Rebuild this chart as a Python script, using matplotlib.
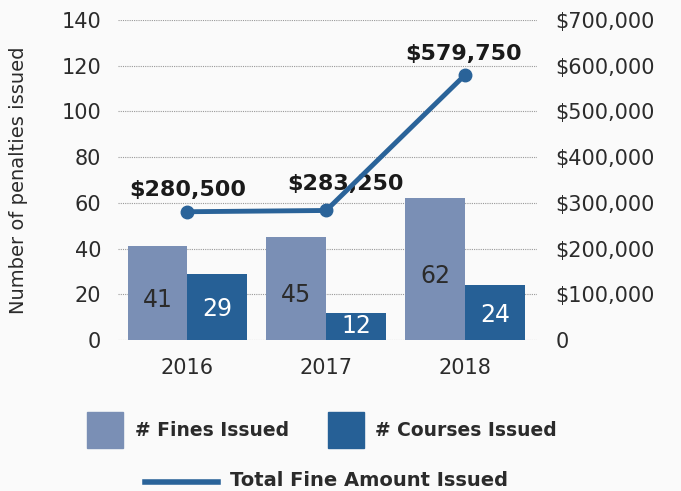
import matplotlib.pyplot as plt
from matplotlib.patches import Rectangle
from matplotlib.lines import Line2D
import numpy as np

years = ["2016", "2017", "2018"]
fines = [41, 45, 62]
courses = [29, 12, 24]
total_amount = [280500, 283250, 579750]
amount_labels = ["$280,500", "$283,250", "$579,750"]

fine_color = "#7a8fb5"
course_color = "#266096"
line_color = "#2a6399"
text_color = "#2b2b2b"

plt.rcParams["font.family"] = ["DejaVu Sans"]

fig = plt.figure(figsize=(6.81, 4.91), dpi=100, facecolor="#fafafa")
ax = fig.add_axes([0.173, 0.3075, 0.616, 0.652])
ax.set_facecolor("none")

x = np.arange(len(years))
w = 0.43
b1 = ax.bar(x - w / 2, fines, w, color=fine_color, zorder=2)
b2 = ax.bar(x + w / 2, courses, w, color=course_color, zorder=2)

for rect, v in zip(b1, fines):
    ax.text(rect.get_x() + w / 2, v / 2 - 3, str(v), ha="center", va="center",
            fontsize=17, color=text_color, zorder=3)
for rect, v in zip(b2, courses):
    ax.text(rect.get_x() + w / 2, v / 2 - 1 if v > 15 else v / 2, str(v),
            ha="center", va="center", fontsize=17, color="white", zorder=3)

ax.set_xlim(-0.5, 2.52)
ax.set_ylim(0, 140)
ax.set_yticks(range(0, 141, 20))
ax.set_xticks(x)
ax.set_xticklabels(years)
ax.tick_params(axis="both", length=0, labelsize=15, labelcolor=text_color)
ax.tick_params(axis="x", pad=13)
ax.tick_params(axis="y", pad=12)
ax.grid(axis="y", color="#999999", linestyle=(0, (1, 1)), linewidth=0.8, zorder=0)
ax.set_axisbelow(True)
for s in ax.spines.values():
    s.set_visible(False)
ax.set_ylabel("Number of penalties issued", fontsize=14, color=text_color, labelpad=24)

ax2 = ax.twinx()
ax2.set_ylim(0, 700000)
ax2.set_yticks(range(0, 700001, 100000))
ax2.set_yticklabels(["0"] + ["${:,}".format(v) for v in range(100000, 700001, 100000)])
ax2.tick_params(axis="y", length=0, labelsize=15, labelcolor=text_color, pad=13)
for s in ax2.spines.values():
    s.set_visible(False)
ax2.plot(x, total_amount, color=line_color, linewidth=3.5, marker="o",
         markersize=9, zorder=4)

offsets = [(0, 16), (14, 19), (-1, 15)]
for xi, v, lab, off in zip(x, total_amount, amount_labels, offsets):
    ax2.annotate(lab, (xi, v), xytext=off, textcoords="offset points",
                 ha="center", va="center", fontsize=16, fontweight="heavy",
                 color="#1a1a1a")

# legend
fig.patches.append(Rectangle((87 / 681, 1 - 448 / 491), 36 / 681, 36 / 491,
                             transform=fig.transFigure, color=fine_color))
fig.text(135 / 681, 1 - 431 / 491, "# Fines Issued", fontsize=13.5,
         fontweight="bold", color=text_color, va="center")
fig.patches.append(Rectangle((328 / 681, 1 - 448 / 491), 36 / 681, 36 / 491,
                             transform=fig.transFigure, color=course_color))
fig.text(375 / 681, 1 - 431 / 491, "# Courses Issued", fontsize=13.5,
         fontweight="bold", color=text_color, va="center")
fig.lines.append(Line2D([145 / 681, 218 / 681], [1 - 482 / 491, 1 - 482 / 491],
                        transform=fig.transFigure, color=line_color, linewidth=4))
fig.text(230 / 681, 1 - 481 / 491, "Total Fine Amount Issued", fontsize=14,
         fontweight="bold", color=text_color, va="center")

fig.savefig("out.png", dpi=100, facecolor=fig.get_facecolor())
